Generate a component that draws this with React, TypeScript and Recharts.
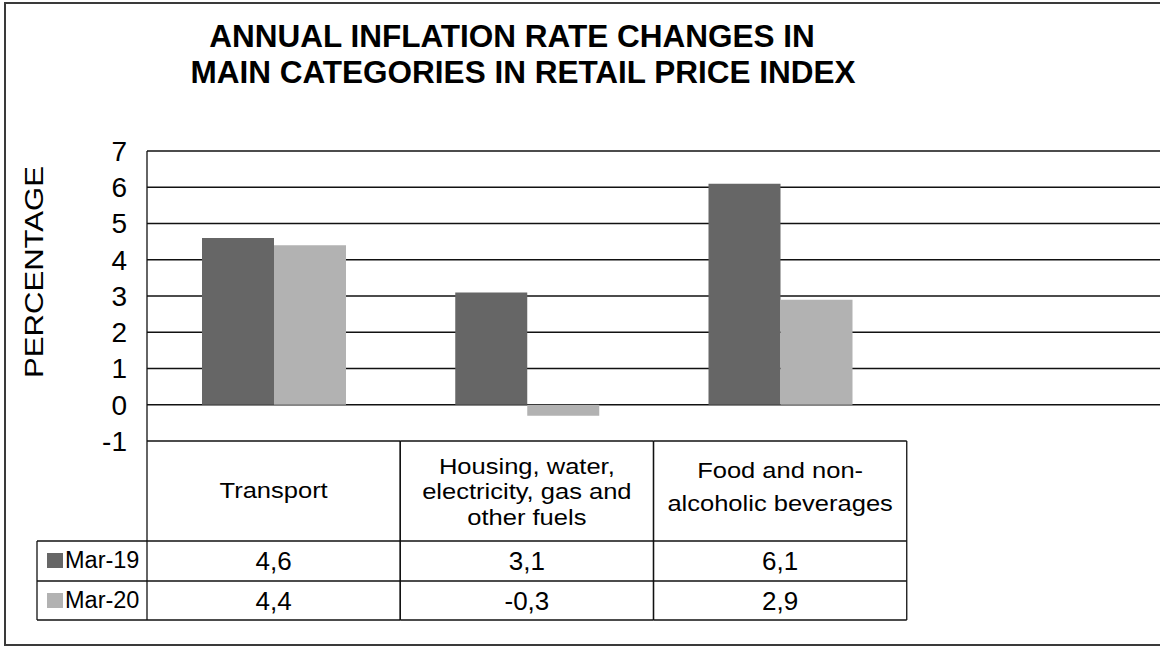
import React from 'react';
import { BarChart, Bar, XAxis, YAxis, CartesianGrid } from 'recharts';

// category names as they wrap in the data table header
const categoryLines: string[][] = [
  ['Transport'],
  ['Housing, water,', 'electricity, gas and', 'other fuels'],
  ['Food and non-', 'alcoholic beverages'],
  [],
];
const categories = categoryLines.map((l) => l.join(' '));
const seriesNames = ['Mar-19', 'Mar-20'];
const mar19 = [4.6, 3.1, 6.1, null];
const mar20 = [4.4, -0.3, 2.9, null];
const yTicks = [-1, 0, 1, 2, 3, 4, 5, 6, 7];

const data = categories.map((name, i) => ({ name, mar19: mar19[i], mar20: mar20[i] }));
const seriesValues = [mar19, mar20];
const seriesColors = ['#666666', '#b2b2b2'];

const W = 1160;
const H = 646;
const PLOT_LEFT = 147;
const PLOT_TOP = 151;
const PLOT_BOTTOM = 441;
const BAND = (W - PLOT_LEFT) / categories.length;
const ROW1 = 541;
const ROW2 = 581;
const TABLE_BOTTOM = 620;
const LEGEND_LEFT = 37;
const FONT = '"Liberation Sans", Arial, sans-serif';
const LINE = '#111';

const headerBaselines: Record<number, number[]> = {
  1: [498],
  2: [478, 511],
  3: [474, 499.5, 525],
};

const fmt = (v: number | null) => (v == null ? '' : v.toFixed(1).replace('.', ','));

function TableCell(props: any) {
  const { x, payload } = props;
  const i = categories.indexOf(payload.value);
  const lines = categoryLines[i] || [];
  if (!lines.length) return <g />;
  const left = x - BAND / 2;
  const right = x + BAND / 2;
  const stretch = `translate(${x},0) scale(1.16,1) translate(${-x},0)`;
  return (
    <g fontFamily={FONT} fill="#000">
      <line x1={left} y1={PLOT_BOTTOM} x2={right} y2={PLOT_BOTTOM} stroke={LINE} strokeWidth={1.3} />
      <line x1={left} y1={ROW1} x2={right} y2={ROW1} stroke={LINE} strokeWidth={1.3} />
      <line x1={left} y1={ROW2} x2={right} y2={ROW2} stroke={LINE} strokeWidth={1.3} />
      <line x1={left} y1={TABLE_BOTTOM} x2={right} y2={TABLE_BOTTOM} stroke={LINE} strokeWidth={1.3} />
      <line x1={left} y1={PLOT_BOTTOM} x2={left} y2={TABLE_BOTTOM} stroke={LINE} strokeWidth={1.3} />
      <line x1={right} y1={PLOT_BOTTOM} x2={right} y2={TABLE_BOTTOM} stroke={LINE} strokeWidth={1.3} />
      {lines.map((t, k) => (
        <text
          key={k}
          x={x}
          y={headerBaselines[lines.length][k]}
          textAnchor="middle"
          fontSize={22}
          transform={stretch}
        >
          {t}
        </text>
      ))}
      {seriesValues.map((vals, r) => (
        <text key={r} x={x} y={(r === 0 ? ROW1 : ROW2) + 29} textAnchor="middle" fontSize={26}>
          {fmt(vals[i])}
        </text>
      ))}
      {i === 0 && (
        <g>
          <line x1={LEGEND_LEFT} y1={ROW1} x2={left} y2={ROW1} stroke={LINE} strokeWidth={1.3} />
          <line x1={LEGEND_LEFT} y1={ROW2} x2={left} y2={ROW2} stroke={LINE} strokeWidth={1.3} />
          <line x1={LEGEND_LEFT} y1={TABLE_BOTTOM} x2={left} y2={TABLE_BOTTOM} stroke={LINE} strokeWidth={1.3} />
          <line x1={LEGEND_LEFT} y1={ROW1} x2={LEGEND_LEFT} y2={TABLE_BOTTOM} stroke={LINE} strokeWidth={1.3} />
          {seriesNames.map((s, r) => {
            const top = r === 0 ? ROW1 : ROW2;
            return (
              <g key={s}>
                <rect x={47} y={top + 12} width={16} height={15} fill={seriesColors[r]} />
                <text x={65} y={top + 27} fontSize={23.5}>
                  {s}
                </text>
              </g>
            );
          })}
        </g>
      )}
    </g>
  );
}

function GridLine(props: any) {
  const { x1, y1, x2, y2 } = props;
  if (y1 > PLOT_BOTTOM - 2) return <g key={props.key} />;
  return <line key={props.key} x1={x1} y1={y1} x2={x2} y2={y2} stroke={LINE} strokeWidth={1.3} />;
}

export default function App() {
  return (
    <div style={{ position: 'relative', width: W, height: H, overflow: 'hidden', background: '#fff' }}>
      <style>{'body{margin:0}'}</style>
      <div
        style={{
          position: 'absolute',
          left: 4,
          top: 2,
          width: W + 100,
          height: 644,
          border: '2px solid #3a3a3a',
          boxSizing: 'border-box',
        }}
      />
      <svg width={W} height={110} style={{ position: 'absolute', left: 0, top: 0 }}>
        <text x={512} y={47} textAnchor="middle" fontFamily={FONT} fontWeight="bold" fontSize={31.5} fill="#000">
          ANNUAL INFLATION RATE CHANGES IN
        </text>
        <text x={523} y={83} textAnchor="middle" fontFamily={FONT} fontWeight="bold" fontSize={31.5} fill="#000">
          MAIN CATEGORIES IN RETAIL PRICE INDEX
        </text>
      </svg>
      <div style={{ position: 'absolute', left: 0, top: 0 }}>
        <BarChart
          width={W}
          height={H}
          data={data}
          barGap={0}
          margin={{ top: PLOT_TOP, right: 0, bottom: 0, left: 0 }}
        >
          <CartesianGrid vertical={false} horizontal={(p: any) => <GridLine {...p} />} />
          <XAxis
            dataKey="name"
            height={H - PLOT_BOTTOM}
            axisLine={false}
            tickLine={false}
            interval={0}
            tick={(p: any) => <TableCell {...p} />}
          />
          <YAxis
            type="number"
            domain={[-1, 7]}
            ticks={yTicks}
            interval={0}
            width={PLOT_LEFT}
            axisLine={{ stroke: LINE, strokeWidth: 1.3 }}
            tickLine={false}
            tickSize={0}
            tickMargin={20}
            tick={{ fontSize: 28, fill: '#000', fontFamily: FONT }}
            label={{
              value: 'PERCENTAGE',
              content: () => (
                <text
                  x={43}
                  y={272}
                  transform="rotate(-90, 43, 272)"
                  textAnchor="middle"
                  fontFamily={FONT}
                  fontSize={26}
                  fill="#000"
                  textLength={212}
                  lengthAdjust="spacingAndGlyphs"
                >
                  PERCENTAGE
                </text>
              ),
            }}
          />
          <Bar dataKey="mar19" name={seriesNames[0]} fill={seriesColors[0]} barSize={72} isAnimationActive={false} />
          <Bar dataKey="mar20" name={seriesNames[1]} fill={seriesColors[1]} barSize={72} isAnimationActive={false} />
        </BarChart>
      </div>
    </div>
  );
}
